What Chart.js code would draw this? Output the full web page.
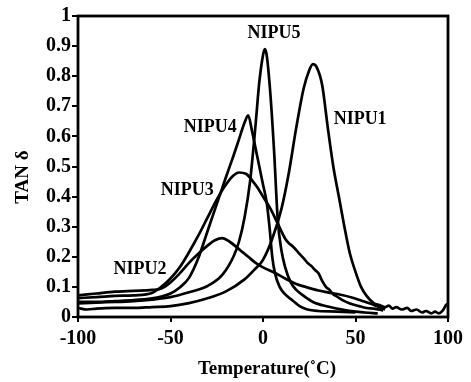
<!DOCTYPE html>
<html>
<head>
<meta charset="utf-8">
<script src="https://cdn.jsdelivr.net/npm/chart.js@4.4.0/dist/chart.umd.min.js"></script>
<style>
  html, body { margin: 0; padding: 0; background: #fff; }
  #wrap { width: 471px; height: 382px; }
</style>
</head>
<body>
<div id="wrap"><canvas id="tan-chart" width="471" height="382"></canvas></div>
<script>
/* tan δ vs temperature, five samples */

const nipu1T   = [-100,-95,-90,-80,-70,-60,-50,-40,-30,-20,-10,-5,0,5,10,14,18,22,25,27,29,32,35,38,41,44,47,50,53,56,60,63,66,68,70,72,75,78,80,83,86,88,91,93,95,97,98,99,100];
const nipu1Tan = [0.03,0.025,0.028,0.03,0.03,0.033,0.036,0.046,0.062,0.085,0.125,0.155,0.19,0.26,0.36,0.48,0.63,0.76,0.82,0.84,0.83,0.77,0.63,0.5,0.4,0.3,0.21,0.15,0.1,0.07,0.045,0.04,0.033,0.038,0.028,0.033,0.025,0.03,0.02,0.025,0.015,0.02,0.012,0.018,0.012,0.02,0.03,0.04,0.045];

const nipu2T   = [-100,-90,-80,-70,-60,-55,-50,-45,-40,-35,-30,-26,-22,-18,-12,-8,-4,0,6,12,18,23,30,35,42,48,53,58,62,66];
const nipu2Tan = [0.072,0.078,0.084,0.087,0.09,0.095,0.115,0.145,0.18,0.21,0.237,0.255,0.262,0.25,0.22,0.2,0.18,0.165,0.148,0.128,0.11,0.1,0.088,0.082,0.074,0.065,0.055,0.045,0.035,0.025];

const nipu3T   = [-100,-90,-80,-70,-60,-55,-50,-45,-40,-35,-30,-25,-20,-16,-13,-9,-6,-3,0,4,8,12,14,16,18,20,22,24,26,28,30,32,34,36,38,40,43,47,52,56,60,65];
const nipu3Tan = [0.063,0.066,0.07,0.072,0.08,0.1,0.128,0.165,0.215,0.27,0.33,0.39,0.44,0.47,0.48,0.475,0.455,0.43,0.4,0.36,0.31,0.26,0.245,0.235,0.222,0.208,0.195,0.18,0.17,0.157,0.145,0.12,0.1,0.09,0.075,0.068,0.056,0.045,0.036,0.03,0.028,0.022];

const nipu4T   = [-100,-90,-80,-70,-60,-55,-50,-45,-40,-35,-30,-25,-20,-16,-13,-10,-8,-6,-4,-2,0,2,3.5,5,6.5,9,12,16,20,24,30,40,50];
const nipu4Tan = [0.05,0.05,0.053,0.056,0.062,0.068,0.078,0.098,0.13,0.195,0.285,0.375,0.465,0.535,0.59,0.645,0.67,0.62,0.56,0.5,0.44,0.38,0.3,0.2,0.145,0.1,0.075,0.055,0.035,0.025,0.02,0.018,0.015];

const nipu5T   = [-100,-90,-80,-70,-60,-50,-40,-30,-22,-16,-13,-10,-7,-4,-2,0,1,2,4,6,8,10,12,15,18,22,27,35,45,55,62];
const nipu5Tan = [0.045,0.048,0.05,0.053,0.058,0.066,0.082,0.103,0.14,0.2,0.25,0.33,0.45,0.64,0.78,0.87,0.89,0.87,0.74,0.55,0.32,0.22,0.165,0.115,0.09,0.07,0.05,0.035,0.022,0.015,0.012];

// curve names and where they are written (data units)
const labelNames = ['NIPU5', 'NIPU1', 'NIPU4', 'NIPU3', 'NIPU2'];
const labelT     = [6, 52.5, -28.5, -41, -66.5];
const labelTan   = [0.943, 0.658, 0.631, 0.422, 0.159];

const xTitle = 'Temperature(˚C)';
const yTitle = 'TAN δ';

const SERIF = '"Liberation Serif", "Times New Roman", serif';

function toPoints(ts, vs) {
  return ts.map((t, i) => ({ x: t, y: vs[i] }));
}

const curves = [
  toPoints(nipu1T, nipu1Tan),
  toPoints(nipu2T, nipu2Tan),
  toPoints(nipu3T, nipu3Tan),
  toPoints(nipu4T, nipu4Tan),
  toPoints(nipu5T, nipu5Tan)
];

/* frame, curve names and axis titles */
const decorPlugin = {
  id: 'decor',
  afterDraw(chart) {
    const { ctx, chartArea: a, scales } = chart;
    ctx.save();
    ctx.strokeStyle = '#000';
    ctx.lineWidth = 2.8;
    ctx.strokeRect(a.left, a.top, a.right - a.left, a.bottom - a.top);

    ctx.fillStyle = '#000';
    ctx.font = 'bold 18px ' + SERIF;
    ctx.textAlign = 'center';
    ctx.textBaseline = 'middle';
    labelNames.forEach((name, i) => {
      ctx.fillText(name, scales.x.getPixelForValue(labelT[i]), scales.y.getPixelForValue(labelTan[i]));
    });

    ctx.font = 'bold 19px ' + SERIF;
    ctx.fillText(xTitle, 267, 369);

    ctx.translate(23, 177);
    ctx.rotate(-Math.PI / 2);
    ctx.fillText(yTitle, 0, 0);
    ctx.restore();
  }
};

const tickFont = { family: SERIF, size: 20, weight: 'bold' };

new Chart(document.getElementById('tan-chart'), {
  type: 'line',
  data: {
    datasets: curves.map((pts, i) => ({
      label: 'NIPU' + (i + 1),
      data: pts,
      borderColor: '#000',
      borderWidth: 2.7,
      pointRadius: 0,
      fill: false,
      cubicInterpolationMode: 'monotone'
    }))
  },
  options: {
    responsive: false,
    animation: false,
    devicePixelRatio: 1,
    layout: { padding: { left: 0, top: 16, right: 23, bottom: 0 } },
    plugins: { legend: { display: false }, tooltip: { enabled: false } },
    scales: {
      x: {
        type: 'linear',
        min: -100,
        max: 100,
        afterFit: s => { s.height = 65; },
        ticks: { stepSize: 50, color: '#000', font: tickFont, padding: 5, maxRotation: 0 },
        grid: { drawOnChartArea: false, drawTicks: true, tickLength: 5, color: '#000', lineWidth: 2 },
        border: { display: false }
      },
      y: {
        min: 0,
        max: 1,
        afterFit: s => { s.width = 78; },
        ticks: {
          stepSize: 0.1,
          color: '#000',
          font: tickFont,
          padding: 1,
          callback: v => (v === 0 ? '0' : v === 1 ? '1' : v.toFixed(1))
        },
        grid: { drawOnChartArea: false, drawTicks: true, tickLength: 6, color: '#000', lineWidth: 2 },
        border: { display: false }
      }
    }
  },
  plugins: [decorPlugin]
});
</script>
</body>
</html>
